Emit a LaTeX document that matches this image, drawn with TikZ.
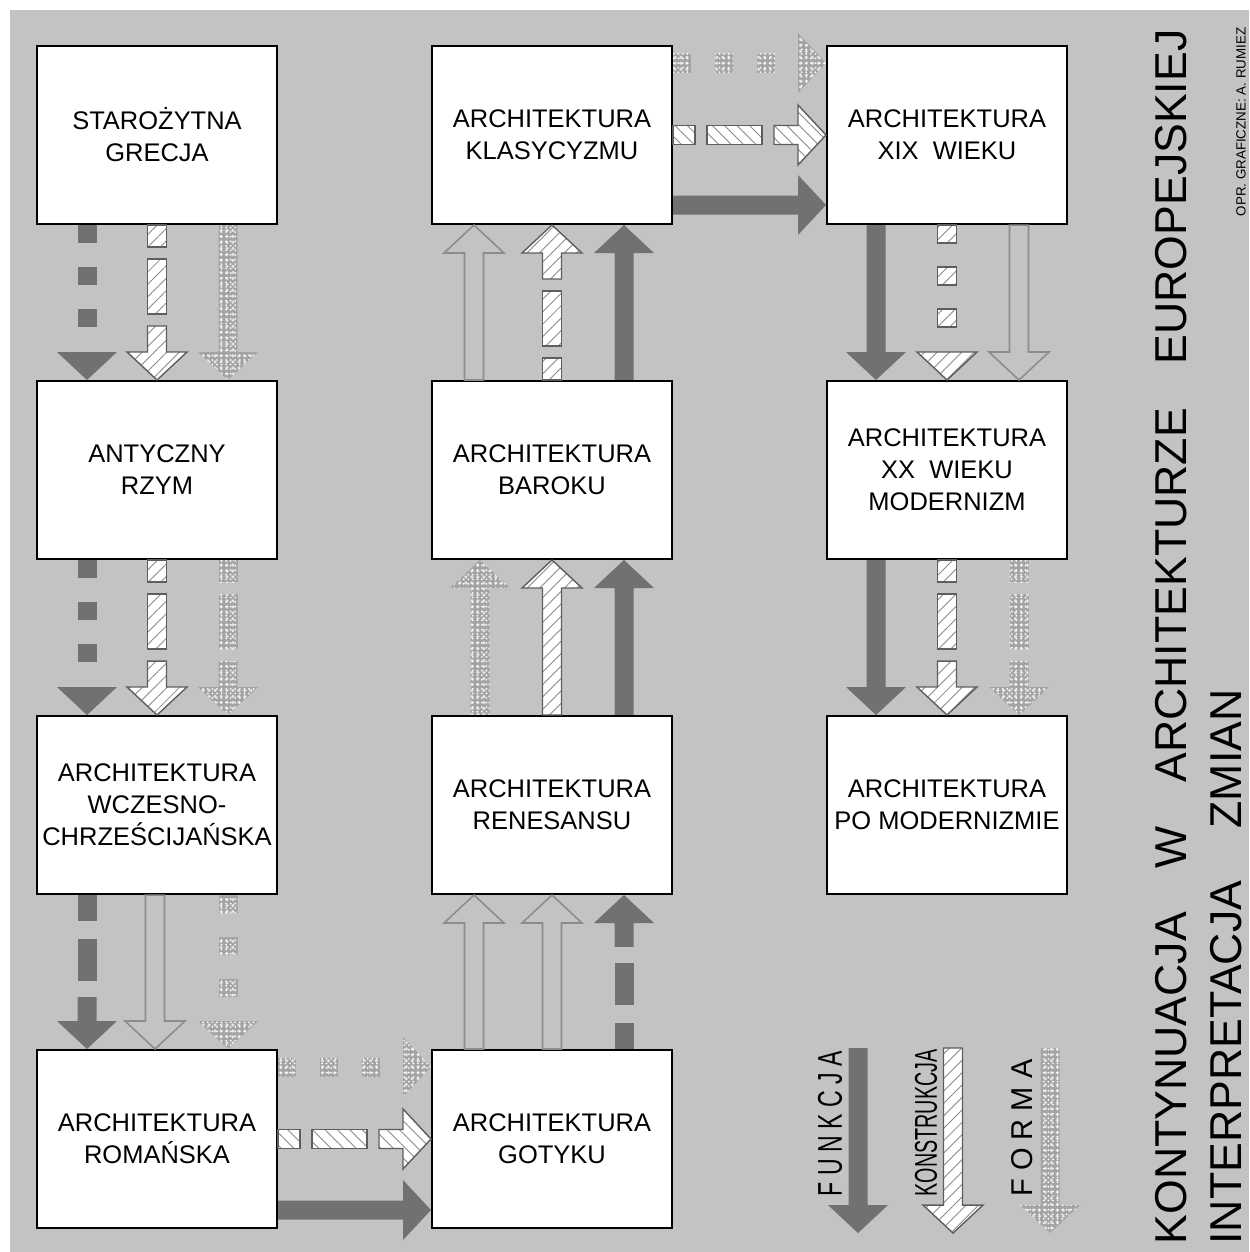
\documentclass[tikz,border=0pt]{standalone}
\usepackage{fontspec}
\setmainfont{Liberation Sans}
\usepackage{graphicx}
\usepackage{tikz}
\usetikzlibrary{calc,patterns.meta}
\definecolor{tlo}{HTML}{C3C3C3}
\definecolor{funkc}{HTML}{717171}
\definecolor{konline}{HTML}{5E5E5E}
\definecolor{hatch}{HTML}{8A8A8A}
\definecolor{formagr}{HTML}{A4A4A4}
\definecolor{outl}{HTML}{8C8C8C}
\tikzset{
  box/.style={draw=black, line width=1.2pt, fill=white, minimum width=4.8cm, minimum height=3.56cm,
    inner sep=0pt, align=center, font=\fontsize{14.5}{18.2}\selectfont},
  funk/.style={fill=funkc},
  konst/.style={draw=konline, line width=0.8pt, preaction={fill=white},
    pattern={Lines[angle=45,distance=5pt,line width=0.5pt]}, pattern color=hatch},
  konstH/.style={konst, pattern={Lines[angle=-45,distance=5pt,line width=0.5pt]}},
  forma/.style={preaction={fill=formagr}, pattern={Dots[distance=3.4pt,radius=1pt]}, pattern color=white!90!black,
    postaction={pattern={Dots[distance=2.6pt,radius=0.55pt,xshift=1.3pt,yshift=0.7pt]}, pattern color=white}},
  pusta/.style={draw=outl, line width=0.9pt},
  solid arrow/.code={\def\basegs{}\def\batail{0}},
  dotted arrow/.code={\def\basegs{0/18,42/60,84/102}\def\batail{}},
  dashed arrow/.code={\def\basegs{0/22,34/89}\def\batail{101}},
  long dashed arrow/.code={\def\basegs{0/26,44/86}\def\batail{102}},
  title/.style={inner sep=0pt, font=\fontsize{25.4}{30}\selectfont},
  podpis/.style={inner sep=0pt, font=\fontsize{7.6}{9}\selectfont},
  legtxt/.style={inner sep=0pt}
}
% block arrow: look, kind, from, to
\newcommand\blockarrow[4]{%
  \path (#3) coordinate (bas) (#4) coordinate (bae);
  \pgfpointdiff{\pgfpointanchor{bas}{center}}{\pgfpointanchor{bae}{center}}%
  \pgfgetlastxy{\badx}{\bady}%
  \pgfmathsetmacro\balen{veclen(\badx,\bady)/0.569055}%
  \pgfmathsetmacro\baang{atan2(\bady,\badx)}%
  \pgfmathsetmacro\bahb{\balen-28}%
  \begin{scope}[shift={(bas)}, rotate=\baang, #2]
    \ifx\basegs\empty\else
      \foreach \a/\b in \basegs {\path[#1] (\a,-9.5) rectangle (\b,9.5);}
    \fi
    \ifx\batail\empty
      \path[#1] (\bahb,-30) -- (\balen,0) -- (\bahb,30) -- cycle;
    \else
      \path[#1] (\batail,-9.5) -- (\bahb,-9.5) -- (\bahb,-30) -- (\balen,0)
        -- (\bahb,30) -- (\bahb,9.5) -- (\batail,9.5) -- cycle;
    \fi
  \end{scope}}

\begin{document}
\begin{tikzpicture}[x=0.02cm,y=-0.02cm]
  \useasboundingbox (0,0) rectangle (1249,1252);
  \fill[tlo] (10,10) rectangle (1249,1252);

  % epoki
  \node[box] (grecja) at (157,135) {STAROŻYTNA\\GRECJA};
  \node[box] (rzym) at (157,470) {ANTYCZNY\\RZYM};
  \node[box] (wczesno) at (157,805) {ARCHITEKTURA\\WCZESNO-\\CHRZEŚCIJAŃSKA};
  \node[box] (romanska) at (157,1139) {ARCHITEKTURA\\ROMAŃSKA};
  \node[box] (gotyk) at (552,1139) {ARCHITEKTURA\\GOTYKU};
  \node[box] (renesans) at (552,805) {ARCHITEKTURA\\RENESANSU};
  \node[box] (barok) at (552,470) {ARCHITEKTURA\\BAROKU};
  \node[box] (klasycyzm) at (552,135) {ARCHITEKTURA\\KLASYCYZMU};
  \node[box] (xix) at (947,135) {ARCHITEKTURA\\XIX~~WIEKU};
  \node[box] (xx) at (947,470) {ARCHITEKTURA\\XX~~WIEKU\\MODERNIZM};
  \node[box] (post) at (947,805) {ARCHITEKTURA\\PO MODERNIZMIE};

  % kolumna 1, w dol
  \blockarrow{funk}{dotted arrow}{$(grecja.south)+(-70,0)$}{$(rzym.north)+(-70,0)$}
  \blockarrow{konst}{dashed arrow}{grecja.south}{rzym.north}
  \blockarrow{forma}{solid arrow}{$(grecja.south)+(71,0)$}{$(rzym.north)+(71,0)$}
  \blockarrow{funk}{dotted arrow}{$(rzym.south)+(-70,0)$}{$(wczesno.north)+(-70,0)$}
  \blockarrow{konst}{dashed arrow}{rzym.south}{wczesno.north}
  \blockarrow{forma}{dashed arrow}{$(rzym.south)+(71,0)$}{$(wczesno.north)+(71,0)$}
  \blockarrow{funk}{long dashed arrow}{$(wczesno.south)+(-70,0)$}{$(romanska.north)+(-70,0)$}
  \blockarrow{pusta}{solid arrow}{$(wczesno.south)+(-2,0)$}{$(romanska.north)+(-2,0)$}
  \blockarrow{forma}{dotted arrow}{$(wczesno.south)+(71,0)$}{$(romanska.north)+(71,0)$}

  % romanska -> gotyk
  \blockarrow{forma}{dotted arrow}{$(romanska.east)+(0,-72)$}{$(gotyk.west)+(0,-72)$}
  \blockarrow{konstH}{dashed arrow}{romanska.east}{gotyk.west}
  \blockarrow{funk}{solid arrow}{$(romanska.east)+(0,71)$}{$(gotyk.west)+(0,71)$}

  % kolumna 2, w gore
  \blockarrow{pusta}{solid arrow}{$(gotyk.north)+(-78,0)$}{$(renesans.south)+(-78,0)$}
  \blockarrow{pusta}{solid arrow}{gotyk.north}{renesans.south}
  \blockarrow{funk}{long dashed arrow}{$(gotyk.north)+(72,0)$}{$(renesans.south)+(72,0)$}
  \blockarrow{forma}{solid arrow}{$(renesans.north)+(-72,0)$}{$(barok.south)+(-72,0)$}
  \blockarrow{konst}{solid arrow}{renesans.north}{barok.south}
  \blockarrow{funk}{solid arrow}{$(renesans.north)+(72,0)$}{$(barok.south)+(72,0)$}
  \blockarrow{pusta}{solid arrow}{$(barok.north)+(-78,0)$}{$(klasycyzm.south)+(-78,0)$}
  \blockarrow{konst}{dashed arrow}{barok.north}{klasycyzm.south}
  \blockarrow{funk}{solid arrow}{$(barok.north)+(72,0)$}{$(klasycyzm.south)+(72,0)$}

  % klasycyzm -> XIX wiek
  \blockarrow{forma}{dotted arrow}{$(klasycyzm.east)+(0,-72)$}{$(xix.west)+(0,-72)$}
  \blockarrow{konstH}{dashed arrow}{klasycyzm.east}{xix.west}
  \blockarrow{funk}{solid arrow}{$(klasycyzm.east)+(0,70)$}{$(xix.west)+(0,70)$}

  % kolumna 3, w dol
  \blockarrow{funk}{solid arrow}{$(xix.south)+(-71,0)$}{$(xx.north)+(-71,0)$}
  \blockarrow{konst}{dotted arrow}{xix.south}{xx.north}
  \blockarrow{pusta}{solid arrow}{$(xix.south)+(72,0)$}{$(xx.north)+(72,0)$}
  \blockarrow{funk}{solid arrow}{$(xx.south)+(-71,0)$}{$(post.north)+(-71,0)$}
  \blockarrow{konst}{dashed arrow}{xx.south}{post.north}
  \blockarrow{forma}{dashed arrow}{$(xx.south)+(72,0)$}{$(post.north)+(72,0)$}

  % legenda
  \coordinate (lfunk-a) at (858,1048); \coordinate (lfunk-b) at (858,1233);
  \coordinate (lkonst-a) at (953,1048); \coordinate (lkonst-b) at (953,1233);
  \coordinate (lforma-a) at (1050,1048); \coordinate (lforma-b) at (1050,1233);
  \blockarrow{funk}{solid arrow}{lfunk-a}{lfunk-b}
  \blockarrow{konst}{solid arrow}{lkonst-a}{lkonst-b}
  \blockarrow{forma}{solid arrow}{lforma-a}{lforma-b}
  \node[legtxt, rotate=90] (lfunk) at (830,1124) {\resizebox{2.9cm}{0.48cm}{F U N K C J A}};
  \node[legtxt, rotate=90] (lkonst) at (926,1123) {\resizebox{2.94cm}{0.44cm}{KONSTRUKCJA}};
  \node[legtxt, rotate=90] (lforma) at (1022,1128) {\resizebox{2.74cm}{0.42cm}{F O R M A}};

  % tytul
  \node[title, rotate=90] (tytul) at (1171,637) {\makebox[24.3cm][s]{KONTYNUACJA W ARCHITEKTURZE EUROPEJSKIEJ}};
  \node[title, rotate=90] (podtytul) at (1226,967) {\makebox[11.1cm][s]{INTERPRETACJA ZMIAN}};
  \node[podpis, rotate=90] (autor) at (1241,122) {OPR. GRAFICZNE: A. RUMIEZ};
\end{tikzpicture}
\end{document}
